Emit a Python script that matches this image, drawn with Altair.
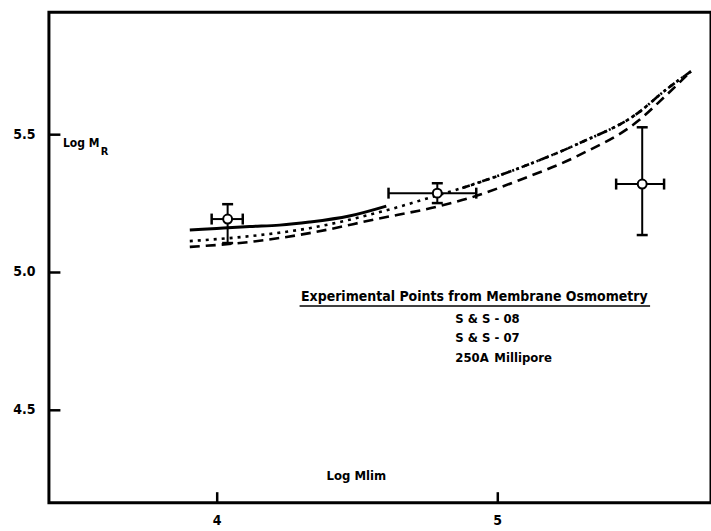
import altair as alt
import pandas as pd

FONT = "DejaVu Sans Condensed"

# --- curves ---
solid_x = [3.904, 4.0, 4.118, 4.224, 4.331, 4.473, 4.605]
solid_y = [5.152, 5.158, 5.165, 5.170, 5.181, 5.203, 5.239]

dotted_x = [3.904, 4.118, 4.331, 4.570, 4.794, 4.876, 5.079, 5.293, 5.507, 5.596, 5.692]
dotted_y = [5.112, 5.130, 5.159, 5.214, 5.280, 5.305, 5.377, 5.467, 5.580, 5.656, 5.728]

dashdot_x = [4.876, 5.079, 5.293, 5.507, 5.596, 5.692]
dashdot_y = [5.305, 5.377, 5.467, 5.580, 5.656, 5.728]

dashed_x = [3.904, 4.118, 4.331, 4.570, 4.794, 4.901, 5.079, 5.293, 5.507, 5.596, 5.692]
dashed_y = [5.091, 5.109, 5.141, 5.192, 5.239, 5.268, 5.333, 5.424, 5.551, 5.634, 5.728]

# --- experimental points with error bars ---
pt_x = [4.039, 4.787, 5.518]
pt_y = [5.192, 5.286, 5.319]
pt_ylow = [5.105, 5.250, 5.134]
pt_yhigh = [5.246, 5.322, 5.525]
pt_xlow = [3.982, 4.613, 5.425]
pt_xhigh = [4.093, 4.926, 5.596]

x_ticks = [4, 5]
y_ticks = [4.5, 5.0, 5.5]

legend_title = "Experimental Points from Membrane Osmometry"
legend_lines = ["S & S - 08", "S & S - 07", "250A"]
legend_extra = "Millipore"

pts = pd.DataFrame({"x": pt_x, "y": pt_y, "ylow": pt_ylow, "yhigh": pt_yhigh,
                    "xlow": pt_xlow, "xhigh": pt_xhigh})

xscale = alt.Scale(domain=[3.4015, 5.7634], nice=False, zero=False)
yscale = alt.Scale(domain=[4.163, 5.942], nice=False, zero=False)

xaxis = alt.Axis(values=x_ticks, format="d", title=None, grid=False, domain=False,
                 tickSize=11, offset=-11, labelPadding=11, tickWidth=2.5,
                 tickColor="black", labelColor="black", labelFont=FONT,
                 labelFontSize=14, labelFontWeight="bold")
yaxis = alt.Axis(values=y_ticks, format=".1f", title=None, grid=False, domain=False,
                 tickSize=11, offset=-11, labelPadding=14, tickWidth=2.5,
                 tickColor="black", labelColor="black", labelFont=FONT,
                 labelFontSize=14, labelFontWeight="bold")


def X(field):
    return alt.X(field, type="quantitative", scale=xscale, axis=xaxis)


def Y(field):
    return alt.Y(field, type="quantitative", scale=yscale, axis=yaxis)


def curve(xs, ys, dash, width):
    df = pd.DataFrame({"x": xs, "y": ys, "o": list(range(len(xs)))})
    kw = dict(color="black", strokeWidth=width, interpolate="monotone", strokeCap="butt")
    if dash:
        kw["strokeDash"] = dash
    return alt.Chart(df).mark_line(**kw).encode(x=X("x"), y=Y("y"), order="o:Q")


solid = curve(solid_x, solid_y, None, 3)
dotted = curve(dotted_x, dotted_y, [3, 5], 2.6)
dashdot = curve(dashdot_x, dashdot_y, [8, 3, 2, 3, 2, 3], 2.6)
dashed = curve(dashed_x, dashed_y, [10, 6], 2.6)

base = alt.Chart(pts)
vbar = base.mark_rule(color="black", strokeWidth=2).encode(x=X("x"), y=Y("ylow"), y2="yhigh")
hbar = base.mark_rule(color="black", strokeWidth=2).encode(x=X("xlow"), x2="xhigh", y=Y("y"))
cap_lo = base.mark_tick(orient="horizontal", size=11, thickness=2.5, color="black", opacity=1).encode(x=X("x"), y=Y("ylow"))
cap_hi = base.mark_tick(orient="horizontal", size=11, thickness=2.5, color="black", opacity=1).encode(x=X("x"), y=Y("yhigh"))
cap_l = base.mark_tick(orient="vertical", size=11, thickness=2.5, color="black", opacity=1).encode(x=X("xlow"), y=Y("y"))
cap_r = base.mark_tick(orient="vertical", size=11, thickness=2.5, color="black", opacity=1).encode(x=X("xhigh"), y=Y("y"))
circles = base.mark_point(shape="circle", size=80, filled=False, fill="white", fillOpacity=1,
                          stroke="black", strokeWidth=2, opacity=1).encode(x=X("x"), y=Y("y"))

txt = dict(font=FONT, fontSize=13, color="black", baseline="middle", fontWeight="bold")
anno = alt.Chart(pd.DataFrame({"a": [0]}))
t_title = anno.mark_text(align="center", font=FONT, fontSize=14, color="black", baseline="middle",
                         fontWeight="bold").encode(
    x=alt.value(426), y=alt.value(285), text=alt.value(legend_title))
underline = anno.mark_rule(color="black", strokeWidth=1.5).encode(
    x=alt.value(251), x2=alt.value(602), y=alt.value(294))
t_l1 = anno.mark_text(align="left", **txt).encode(x=alt.value(407), y=alt.value(307), text=alt.value(legend_lines[0]))
t_l2 = anno.mark_text(align="left", **txt).encode(x=alt.value(407), y=alt.value(326), text=alt.value(legend_lines[1]))
t_l3 = anno.mark_text(align="left", **txt).encode(x=alt.value(407), y=alt.value(346), text=alt.value(legend_lines[2]))
t_l4 = anno.mark_text(align="left", **txt).encode(x=alt.value(446), y=alt.value(346), text=alt.value(legend_extra))

y_title = anno.mark_text(align="left", font=FONT, fontSize=12, color="black", baseline="middle",
                         fontWeight="bold").encode(x=alt.value(14), y=alt.value(131), text=alt.value("Log M"))
y_sub = anno.mark_text(align="left", font=FONT, fontSize=11, color="black", baseline="middle",
                       fontWeight="bold").encode(
    x=alt.value(52), y=alt.value(140), text=alt.value("R"))
x_title = anno.mark_text(align="left", **txt).encode(x=alt.value(278), y=alt.value(464), text=alt.value("Log Mlim"))

chart = alt.layer(
    dashed, dotted, dashdot, solid,
    vbar, hbar, cap_lo, cap_hi, cap_l, cap_r, circles,
    t_title, underline, t_l1, t_l2, t_l3, t_l4, y_title, y_sub, x_title,
).properties(
    width=663, height=491,
    autosize=alt.AutoSizeParams(type="none"),
    padding={"left": 49, "top": 12, "right": 0, "bottom": 28},
    background="white",
).configure_view(stroke="black", strokeWidth=3)

chart.save("out.html", embed_options={"renderer": "svg", "actions": False})
